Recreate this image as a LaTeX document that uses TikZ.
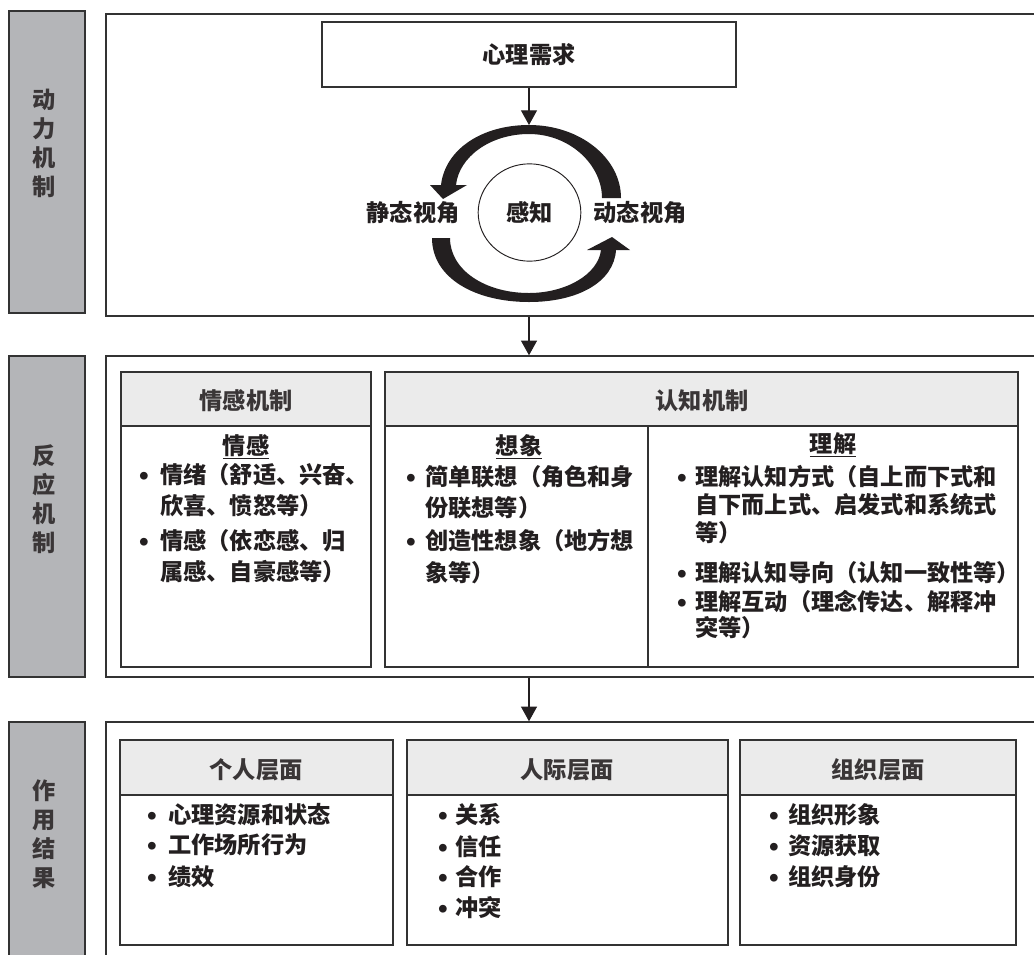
\documentclass[tikz,border=0pt]{standalone}
\usepackage{fontspec}
\setmainfont{Noto Sans CJK SC}
\usetikzlibrary{arrows.meta,shapes.geometric,fit}
\definecolor{barfill}{HTML}{B4B5B8}
\definecolor{headfill}{HTML}{EBEBEB}
\definecolor{linec}{HTML}{333333}
\definecolor{txt}{HTML}{231F20}
\definecolor{htxt}{HTML}{3A3637}
\begin{document}
\begin{tikzpicture}[x=0.75pt,y=-0.75pt,
  gbar/.style={draw=linec,line width=1.1pt,fill=barfill,inner sep=0pt},
  oframe/.style={draw=linec,line width=1.1pt,inner sep=0pt},
  ibox/.style={draw=linec,line width=1.1pt,inner sep=0pt},
  hbox/.style={draw=linec,line width=1.1pt,fill=headfill,inner sep=0pt},
  lbl/.style={text=txt,font=\fontsize{17.4}{20.4}\selectfont\bfseries,inner sep=0pt},
  hlbl/.style={text=htxt,font=\fontsize{17.4}{20.4}\selectfont\bfseries,inner sep=0pt},
  lne/.style={lbl,anchor=west,text height=14.5pt,text depth=2pt},
  blt/.style={lbl,font=\fontsize{6.5}{7}\selectfont,yshift=-1pt},
  vlbl/.style={hlbl,align=center,font=\fontsize{17.4}{21.75}\selectfont\bfseries},
  arr/.style={draw=txt,line width=0.8pt,-{Triangle[length=11pt,width=12pt]}},
  cyc/.style={fill=txt,draw=none}
]
\useasboundingbox (0,0) rectangle (1034,954);
\fill[white] (0,0) rectangle (1034,954);

% left grey bars
\node[gbar,fit={(9,11) (85,313)}] (bar1) {};
\node[gbar,fit={(9,356) (85,677)}] (bar2) {};
\node[gbar,fit={(9,722) (85,970)}] (bar3) {};
\node[vlbl] (bt1) at (44,143) {动\\力\\机\\制};
\node[vlbl] (bt2) at (44,499) {反\\应\\机\\制};
\node[vlbl] (bt3) at (44,834) {作\\用\\结\\果};

% outer frames
\node[oframe,fit={(106,14) (1045,316)}] (f1) {};
\node[oframe,fit={(106,356) (1045,677)}] (f2) {};
\node[oframe,fit={(106,722) (1045,970)}] (f3) {};

% top section
\node[ibox,fit={(322,22) (736,87)}] (psyb) {};
\node[lbl] (psy) at (529,55) {心理需求};
\coordinate (cyctop) at (529,125);
\draw[arr] (psyb.south -| cyctop) -- (cyctop);

\fill[cyc] (621,198) .. controls (621,158) and (580,125) .. (529,125)
  .. controls (481,125) and (445,150) .. (441,185)
  -- (430,185) -- (443,199) -- (467,185) -- (456,185)
  .. controls (459,157) and (490,134) .. (529,134)
  .. controls (570,134) and (602,165) .. (602,198) -- cycle;
\fill[cyc] (432,238) .. controls (432,278) and (475,302) .. (529,302)
  .. controls (578,302) and (614,282) .. (616,250)
  -- (630,250) -- (612,237) -- (587,250) -- (601,250)
  .. controls (598,275) and (565,293) .. (529,293)
  .. controls (485,293) and (450,270) .. (450,238) -- cycle;

\node[ellipse,draw=txt,line width=0.7pt,minimum width=77pt,minimum height=73pt,inner sep=0pt] (gz) at (529.5,212.5) {};
\node[lbl] (gzt) at (529.5,213) {感知};
\node[lbl] (stat) at (413,213) {静态视角};
\node[lbl] (dyn) at (640,213) {动态视角};

\draw[arr] (f1.south -| cyctop) -- (f2.north -| cyctop);

% middle section
\node[ibox,fit={(121,372) (371,667)}] (emo) {};
\node[hbox,fit={(121,372) (371,426)}] (emoh) {};
\node[ibox,fit={(385,372) (1018,667)}] (cog) {};
\node[hbox,fit={(385,372) (1018,426)}] (cogh) {};
\node[ibox,fit={(648,426) (1018,667)}] (comp) {};
\node[hlbl] (emot) at (246,401) {情感机制};
\node[hlbl] (cogt) at (702,401) {认知机制};
\node[lbl] (emos) at (246,447) {\underline{情感}};
\node[lbl] (imas) at (519,447) {\underline{想象}};
\node[lbl] (coms) at (833,445) {\underline{理解}};

\node[blt] (e1b) at (144,475) {●};
\node[lne] (e1a) at (160,475) {情绪（舒适、兴奋、};
\node[lne] (e1c) at (160,506) {欣喜、愤怒等）};
\node[blt] (e2b) at (144,541) {●};
\node[lne] (e2a) at (160,541) {情感（依恋感、归};
\node[lne] (e2c) at (160,572) {属感、自豪感等）};

\node[blt] (i1b) at (411,477) {●};
\node[lne] (i1a) at (425,477) {简单联想（角色和身};
\node[lne] (i1c) at (425,508) {份联想等）};
\node[blt] (i2b) at (411,541) {●};
\node[lne] (i2a) at (425,541) {创造性想象（地方想};
\node[lne] (i2c) at (425,573) {象等）};

\node[blt] (c1b) at (682,477) {●};
\node[lne] (c1a) at (695,477) {理解认知方式（自上而下式和};
\node[lne] (c1c) at (695,505) {自下而上式、启发式和系统式};
\node[lne] (c1d) at (695,533) {等）};
\node[blt] (c2b) at (682,573) {●};
\node[lne] (c2a) at (695,573) {理解认知导向（认知一致性等）};
\node[blt] (c3b) at (682,602) {●};
\node[lne] (c3a) at (695,602) {理解互动（理念传达、解释冲};
\node[lne] (c3c) at (695,628) {突等）};

\draw[arr] (f2.south -| cyctop) -- (f3.north -| cyctop);

% bottom section
\node[ibox,fit={(120,740) (393,945)}] (ind) {};
\node[hbox,fit={(120,740) (393,795)}] (indh) {};
\node[ibox,fit={(407,740) (728,945)}] (inter) {};
\node[hbox,fit={(407,740) (728,795)}] (interh) {};
\node[ibox,fit={(740,740) (1016,945)}] (org) {};
\node[hbox,fit={(740,740) (1016,795)}] (orgh) {};
\node[hlbl] (indt) at (256,770) {个人层面};
\node[hlbl] (intert) at (567,770) {人际层面};
\node[hlbl] (orgt) at (878,770) {组织层面};

\node[blt] (p1b) at (152,815) {●};
\node[lne] (p1) at (168,815) {心理资源和状态};
\node[blt] (p2b) at (152,845) {●};
\node[lne] (p2) at (168,845) {工作场所行为};
\node[blt] (p3b) at (152,877) {●};
\node[lne] (p3) at (168,877) {绩效};

\node[blt] (r1b) at (443,815) {●};
\node[lne] (r1) at (455,815) {关系};
\node[blt] (r2b) at (443,847) {●};
\node[lne] (r2) at (455,847) {信任};
\node[blt] (r3b) at (443,877) {●};
\node[lne] (r3) at (455,877) {合作};
\node[blt] (r4b) at (443,908) {●};
\node[lne] (r4) at (455,908) {冲突};

\node[blt] (o1b) at (774,815) {●};
\node[lne] (o1) at (788,815) {组织形象};
\node[blt] (o2b) at (774,846) {●};
\node[lne] (o2) at (788,846) {资源获取};
\node[blt] (o3b) at (774,877) {●};
\node[lne] (o3) at (788,877) {组织身份};
\end{tikzpicture}
\end{document}
